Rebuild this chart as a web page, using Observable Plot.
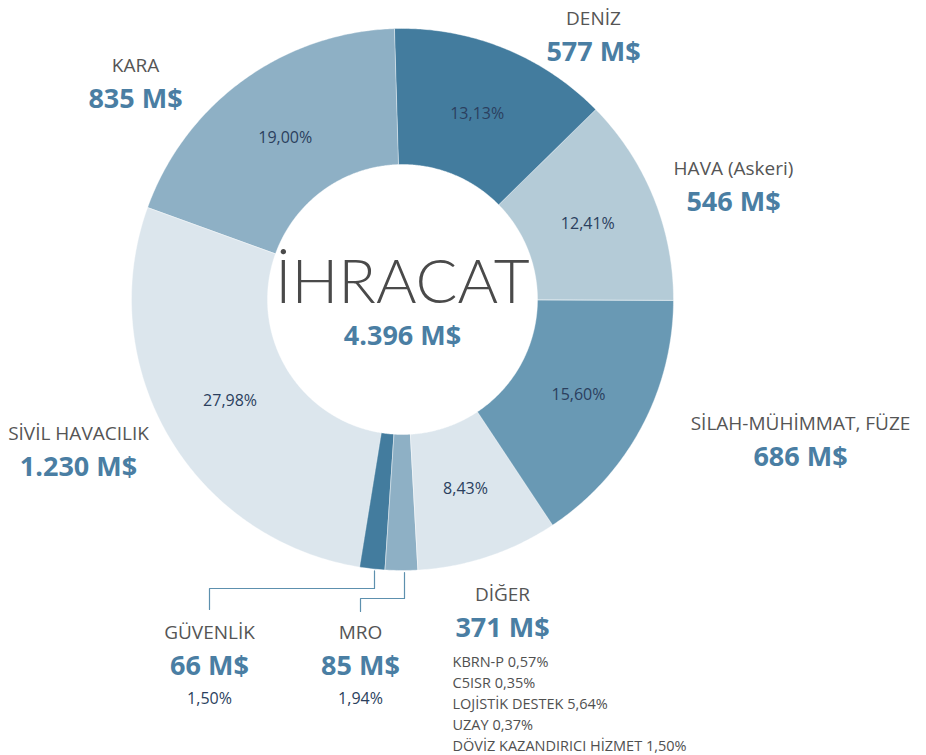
<!DOCTYPE html>
<html><head><meta charset="utf-8">
<script src="https://cdn.jsdelivr.net/npm/d3@7"></script>
<script src="https://cdn.jsdelivr.net/npm/@observablehq/plot@0.6"></script>
<style>
html,body{margin:0;padding:0;background:#fff;}
#chart svg{display:block;}
</style>
</head><body><div id="chart"></div>
<script>
// ---- data ----
const categories = ["DENİZ", "HAVA (Askeri)", "SİLAH-MÜHİMMAT, FÜZE", "DİĞER", "MRO", "GÜVENLİK", "SİVİL HAVACILIK", "KARA"];
const values = [577, 546, 686, 371, 85, 66, 1230, 835];           // M$
const shares = [13.13, 12.41, 15.60, 8.43, 1.94, 1.50, 27.98, 19.00]; // %
const total = 4396;
const centerTitle = "İHRACAT";
const otherItems = ["KBRN-P", "C5ISR", "LOJİSTİK DESTEK", "UZAY", "DÖVİZ KAZANDIRICI HİZMET"];
const otherShares = [0.57, 0.35, 5.64, 0.37, 1.50];

// ---- styles / layout ----
const colors = ["#437c9e", "#b4cbd7", "#6999b4", "#dce6ed", "#8eb0c5", "#437c9e", "#dce6ed", "#8eb0c5"];
const cx = 402, cy = 299, R = 271, r0 = 135, startDeg = -1.7;
const labelLayout = {
  "DENİZ": {x: 593, y: 24},
  "HAVA (Askeri)": {x: 733, y: 174},
  "SİLAH-MÜHİMMAT, FÜZE": {x: 800, y: 429},
  "DİĞER": {x: 502, y: 600},
  "MRO": {x: 360, y: 638, lead: [598, 611]},
  "GÜVENLİK": {x: 209, y: 638, lead: [588, 609]},
  "SİVİL HAVACILIK": {x: 78, y: 439},
  "KARA": {x: 135, y: 71}
};

const fmtTR = (v, d) => v.toFixed(d).replace(".", ",");
const fmtThousands = v => d3.format(",")(v).replace(/,/g, ".");
const rad = d => d * Math.PI / 180;
const polar = (deg, r) => [cx + r * Math.sin(rad(deg)), cy - r * Math.cos(rad(deg))];

// slices geometry from values
const sum = d3.sum(values);
let acc = 0;
const slices = categories.map((name, i) => {
  const a0 = startDeg + 360 * acc / sum;
  acc += values[i];
  const a1 = startDeg + 360 * acc / sum;
  return {name, i, a0, a1, mid: (a0 + a1) / 2};
});
const polyPts = [];
for (const s of slices) {
  const n = Math.max(2, Math.ceil((s.a1 - s.a0) / 0.5));
  for (let k = 0; k <= n; k++) {
    const [x, y] = polar(s.a0 + (s.a1 - s.a0) * k / n, R);
    polyPts.push({name: s.name, x, y});
  }
  for (let k = n; k >= 0; k--) {
    const [x, y] = polar(s.a0 + (s.a1 - s.a0) * k / n, r0);
    polyPts.push({name: s.name, x, y});
  }
}

// in-ring percent labels
const pctLabels = slices.filter(s => shares[s.i] > 5).map(s => {
  const [x, y] = polar(s.mid, 200);
  return {x, y, text: fmtTR(shares[s.i], 2) + "%"};
});

// outer labels
const nameLabels = slices.map(s => ({x: labelLayout[s.name].x, y: labelLayout[s.name].y, text: s.name}));
const valueLabels = slices.map(s => ({x: labelLayout[s.name].x, y: labelLayout[s.name].y + 36, text: fmtThousands(values[s.i]) + " M$"}));
const smallPct = slices.filter(s => labelLayout[s.name].lead).map(s => ({x: labelLayout[s.name].x, y: labelLayout[s.name].y + 65, text: fmtTR(shares[s.i], 2) + "%"}));

// leader lines
const leadPts = [];
slices.filter(s => labelLayout[s.name].lead).forEach(s => {
  const [sx, sy] = polar(s.mid, R + 2);
  const L = labelLayout[s.name];
  const x0 = Math.round(sx) + 3;
  [[x0, sy], [x0, L.lead[0]], [L.x, L.lead[0]], [L.x, L.lead[1]]].forEach(([x, y]) => leadPts.push({name: s.name, x, y}));
});

// other sublist
const otherLabels = otherItems.map((t, i) => ({x: 452, y: 666 + i * 21, text: t + " " + fmtTR(otherShares[i], 2) + "%"}));

const font = "'Open Sans', sans-serif";
const chart = Plot.plot({
  width: 926, height: 755,
  marginTop: 0, marginRight: 0, marginBottom: 0, marginLeft: 0,
  x: {domain: [0, 926], range: [0, 926], axis: null},
  y: {domain: [0, 755], range: [0, 755], axis: null},
  color: {domain: categories, range: colors},
  style: {fontFamily: font, background: "#fff"},
  marks: [
    Plot.line(polyPts, {x: "x", y: "y", z: "name", fill: "name", stroke: "#fff", strokeWidth: 0.4, curve: "linear-closed"}),
    Plot.line(leadPts, {x: "x", y: "y", z: "name", stroke: "#5d90ae", strokeWidth: 1.2}),
    Plot.text(pctLabels, {x: "x", y: "y", text: "text", fontSize: 16, fill: "#2b3f5e", textAnchor: "middle", lineAnchor: "middle"}),
    Plot.text([{x: cx, y: 302, text: centerTitle}], {x: "x", y: "y", text: "text", fontSize: 62, fontWeight: 300, fill: "#4a4a4a", fontFamily: "Lato, sans-serif", textAnchor: "middle", lineAnchor: "bottom"}),
    Plot.text([{x: cx, y: 344, text: fmtThousands(total) + " M$"}], {x: "x", y: "y", text: "text", fontSize: 27, fontWeight: 700, fill: "#4a7ea3", textAnchor: "middle", lineAnchor: "bottom"}),
    Plot.text(nameLabels, {x: "x", y: "y", text: "text", fontSize: 19, fill: "#555", textAnchor: "middle", lineAnchor: "bottom"}),
    Plot.text(valueLabels, {x: "x", y: "y", text: "text", fontSize: 27, fontWeight: 700, fill: "#4a7ea3", textAnchor: "middle", lineAnchor: "bottom"}),
    Plot.text(smallPct, {x: "x", y: "y", text: "text", fontSize: 16, fill: "#2b3f5e", textAnchor: "middle", lineAnchor: "bottom"}),
    Plot.text(otherLabels, {x: "x", y: "y", text: "text", fontSize: 14.5, fill: "#505050", textAnchor: "start", lineAnchor: "bottom"})
  ]
});
document.getElementById("chart").appendChild(chart);
</script>
</body></html>
